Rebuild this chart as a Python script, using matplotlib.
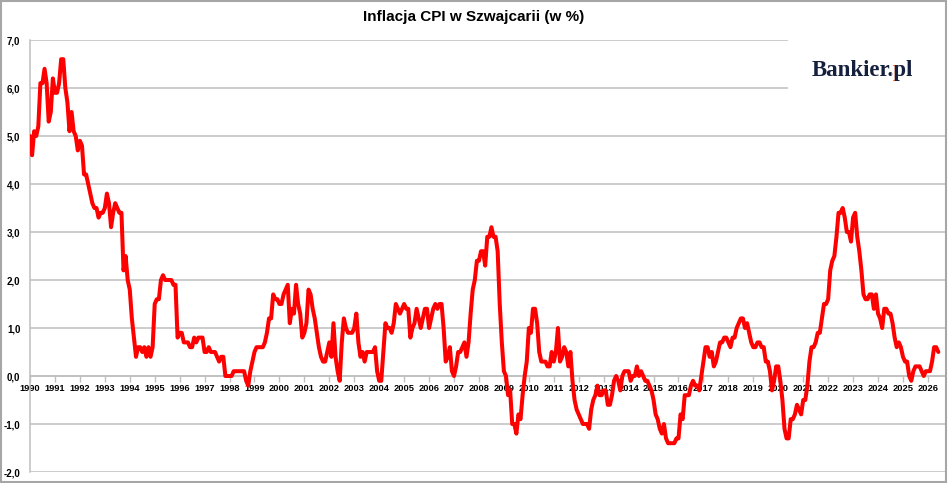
import matplotlib
matplotlib.use("Agg")
import matplotlib.pyplot as plt
from matplotlib.patches import Rectangle
from matplotlib.transforms import Bbox
import numpy as np

# monthly CPI y/y (%) for Switzerland, Jan 1990 .. Jun 2026
cpi_1990s = [
    5.0, 4.6, 5.1, 5.0, 5.2, 6.1, 6.1, 6.4, 6.1, 5.3, 5.5, 6.2,   # 1990
    5.9, 5.9, 6.1, 6.6, 6.6, 6.0, 5.7, 5.1, 5.5, 5.1, 5.0, 4.7,   # 1991
    4.9, 4.8, 4.2, 4.2, 4.0, 3.8, 3.6, 3.5, 3.5, 3.3, 3.4, 3.4,   # 1992
    3.5, 3.8, 3.6, 3.1, 3.4, 3.6, 3.5, 3.4, 3.4, 2.2, 2.5, 2.0,   # 1993
    1.8, 1.2, 0.8, 0.4, 0.6, 0.6, 0.5, 0.6, 0.4, 0.6, 0.4, 0.6,   # 1994
    1.5, 1.6, 1.6, 2.0, 2.1, 2.0, 2.0, 2.0, 2.0, 1.9, 1.9, 0.8,   # 1995
    0.9, 0.9, 0.7, 0.7, 0.7, 0.6, 0.6, 0.8, 0.7, 0.8, 0.8, 0.8,   # 1996
    0.5, 0.5, 0.6, 0.5, 0.5, 0.5, 0.4, 0.3, 0.4, 0.4, 0.0, 0.0,   # 1997
    0.0, 0.0, 0.1, 0.1, 0.1, 0.1, 0.1, 0.1, -0.1, -0.2, 0.1, 0.3, # 1998
    0.5, 0.6, 0.6, 0.6, 0.6, 0.7, 0.9, 1.2, 1.2, 1.7, 1.6, 1.6,   # 1999
]
cpi_2000s = [
    1.5, 1.5, 1.7, 1.8, 1.9, 1.1, 1.4, 1.3, 1.9, 1.5, 1.3, 0.8,   # 2000
    0.9, 1.1, 1.8, 1.7, 1.4, 1.2, 0.9, 0.6, 0.4, 0.3, 0.3, 0.5,   # 2001
    0.7, 0.4, 1.1, 0.4, 0.1, -0.1, 0.7, 1.2, 1.0, 0.9, 0.9, 0.9,  # 2002
    1.0, 1.3, 0.7, 0.4, 0.5, 0.3, 0.5, 0.5, 0.5, 0.5, 0.6, 0.1,   # 2003
    -0.1, -0.1, 0.5, 1.1, 1.0, 1.0, 0.9, 1.1, 1.5, 1.4, 1.3, 1.4, # 2004
    1.5, 1.4, 1.4, 0.8, 1.0, 1.1, 1.4, 1.2, 1.0, 1.2, 1.4, 1.4,   # 2005
    1.0, 1.2, 1.4, 1.5, 1.4, 1.5, 1.5, 1.0, 0.3, 0.4, 0.6, 0.1,   # 2006
    0.0, 0.2, 0.5, 0.5, 0.6, 0.7, 0.4, 0.7, 1.3, 1.8, 2.0, 2.4,   # 2007
    2.4, 2.6, 2.6, 2.3, 2.9, 2.9, 3.1, 2.9, 2.9, 2.6, 1.5, 0.7,   # 2008
    0.1, 0.0, -0.4, -0.3, -1.0, -1.0, -1.2, -0.8, -0.9, -0.4, 0.0, 0.3,  # 2009
]
cpi_2010s = [
    1.0, 0.9, 1.4, 1.4, 1.1, 0.5, 0.3, 0.3, 0.3, 0.2, 0.2, 0.5,   # 2010
    0.3, 0.5, 1.0, 0.3, 0.4, 0.6, 0.5, 0.2, 0.5, -0.1, -0.5, -0.7,  # 2011
    -0.8, -0.9, -1.0, -1.0, -1.0, -1.1, -0.7, -0.5, -0.4, -0.2, -0.4, -0.4,  # 2012
    -0.3, -0.3, -0.6, -0.6, -0.4, -0.1, 0.0, -0.1, -0.3, 0.0, 0.1, 0.1,  # 2013
    0.1, -0.1, 0.0, 0.0, 0.2, 0.0, 0.1, 0.0, -0.1, -0.1, -0.2, -0.3,  # 2014
    -0.5, -0.8, -0.9, -1.1, -1.2, -1.0, -1.3, -1.4, -1.4, -1.4, -1.4, -1.3,  # 2015
    -1.3, -0.8, -0.9, -0.4, -0.4, -0.4, -0.2, -0.1, -0.2, -0.2, -0.3, 0.0,  # 2016
    0.3, 0.6, 0.6, 0.4, 0.5, 0.2, 0.3, 0.5, 0.7, 0.7, 0.8, 0.8,   # 2017
    0.7, 0.6, 0.8, 0.8, 1.0, 1.1, 1.2, 1.2, 1.0, 1.1, 0.9, 0.7,   # 2018
    0.6, 0.6, 0.7, 0.7, 0.6, 0.6, 0.3, 0.3, 0.1, -0.3, -0.1, 0.2, # 2019
]
cpi_2020s = [
    0.2, -0.1, -0.5, -1.1, -1.3, -1.3, -0.9, -0.9, -0.8, -0.6, -0.7, -0.8,  # 2020
    -0.5, -0.5, -0.2, 0.3, 0.6, 0.6, 0.7, 0.9, 0.9, 1.2, 1.5, 1.5,  # 2021
    1.6, 2.2, 2.4, 2.5, 2.9, 3.4, 3.4, 3.5, 3.3, 3.0, 3.0, 2.8,   # 2022
    3.3, 3.4, 2.9, 2.6, 2.2, 1.7, 1.6, 1.6, 1.7, 1.7, 1.4, 1.7,   # 2023
    1.3, 1.2, 1.0, 1.4, 1.4, 1.3, 1.3, 1.1, 0.8, 0.6, 0.7, 0.6,   # 2024
    0.4, 0.3, 0.3, 0.0, -0.1, 0.1, 0.2, 0.2, 0.2, 0.1, 0.0, 0.1,  # 2025
    0.1, 0.1, 0.3, 0.6, 0.6, 0.5,                                 # 2026
]
years = list(range(1990, 2027))
yticks = [-2, -1, 0, 1, 2, 3, 4, 5, 6, 7]

cpi = np.array(cpi_1990s + cpi_2000s + cpi_2010s + cpi_2020s)
idx = np.arange(len(cpi))

W, H = 948, 483
fig = plt.figure(figsize=(W / 100, H / 100), dpi=100)
fig.patch.set_facecolor("white")

sans = ["Liberation Sans", "DejaVu Sans"]
grid_c = "#bfbfbf"

# plot area in pixels: left 30, right 945, top 40, bottom 472
ax = fig.add_axes([30 / W, 1 - 472 / H, (945 - 30) / W, (472 - 40) / H])
ax.set_facecolor("white")

# spine setup first: set_position resets the ticks
ax.spines["bottom"].set_position(("data", 0))
ax.spines["bottom"].set_color(grid_c)
ax.spines["bottom"].set_linewidth(1.1)
ax.spines["left"].set_color(grid_c)
ax.spines["left"].set_linewidth(1.1)
ax.spines["top"].set_visible(False)
ax.spines["right"].set_visible(False)

ax.plot(idx, cpi, color="#ff0000", lw=2.9, solid_joinstyle="round",
        solid_capstyle="round", zorder=3)

last_x = 437 * (945 - 30) / (938.3 - 30)
ax.set_xlim(0, last_x)
ax.set_ylim(-2, 7)

ax.set_yticks(yticks)
ax.set_yticklabels([f"{v:.1f}".replace(".", ",") for v in yticks],
                   fontfamily=sans, fontweight="bold", fontsize=7)
ax.yaxis.grid(True, color=grid_c, lw=1.1)
ax.set_axisbelow(True)

ax.set_xticks([12 * (y - 1990) for y in years])
ax.set_xticklabels([str(y) for y in years], fontfamily=sans,
                   fontweight="bold", fontsize=6.7)
ax.tick_params(axis="x", length=4, width=1, color=grid_c, pad=2)
ax.tick_params(axis="y", length=0, pad=7)

fig.text(0.5, 1 - 17 / H, "Inflacja CPI w Szwajcarii (w %)", ha="center",
         va="center", fontfamily=sans, fontweight="bold", fontsize=11)

# logo box over the grid
fig.patches.append(Rectangle((788 / W, 1 - 100 / H), (946 - 788) / W, 62 / H,
                             transform=fig.transFigure, facecolor="white",
                             edgecolor="none", zorder=5))
logo_kw = dict(fontfamily=["Liberation Serif", "DejaVu Serif"],
               fontweight="bold", fontsize=16.5, va="baseline", zorder=6)
renderer = fig.canvas.get_renderer()
lx, ly = 812 / W, 1 - 76 / H
fig.text(lx, ly, "Bankier.pl", color="#15203f", **logo_kw)
# orange dot: same string on top, clipped to the dot
probe_a = fig.text(lx, ly, "Bankier", alpha=0, **logo_kw)
probe_b = fig.text(lx, ly, "Bankier.", alpha=0, **logo_kw)
xa = probe_a.get_window_extent(renderer).x1
xb = probe_b.get_window_extent(renderer).x1
dot = fig.text(lx, ly, "Bankier.pl", color="#f05a28", **logo_kw)
dot.set_clip_box(Bbox.from_extents(xa + 0.3, 0, xb + 0.3, H))
dot.set_clip_on(True)

# outer frame
fig.patches.append(Rectangle((0.001, 0.002), 0.997, 0.996,
                             transform=fig.transFigure, fill=False,
                             edgecolor="#a6a6a6", lw=1.5, zorder=10))

fig.savefig("out.png", dpi=100, facecolor="white")
